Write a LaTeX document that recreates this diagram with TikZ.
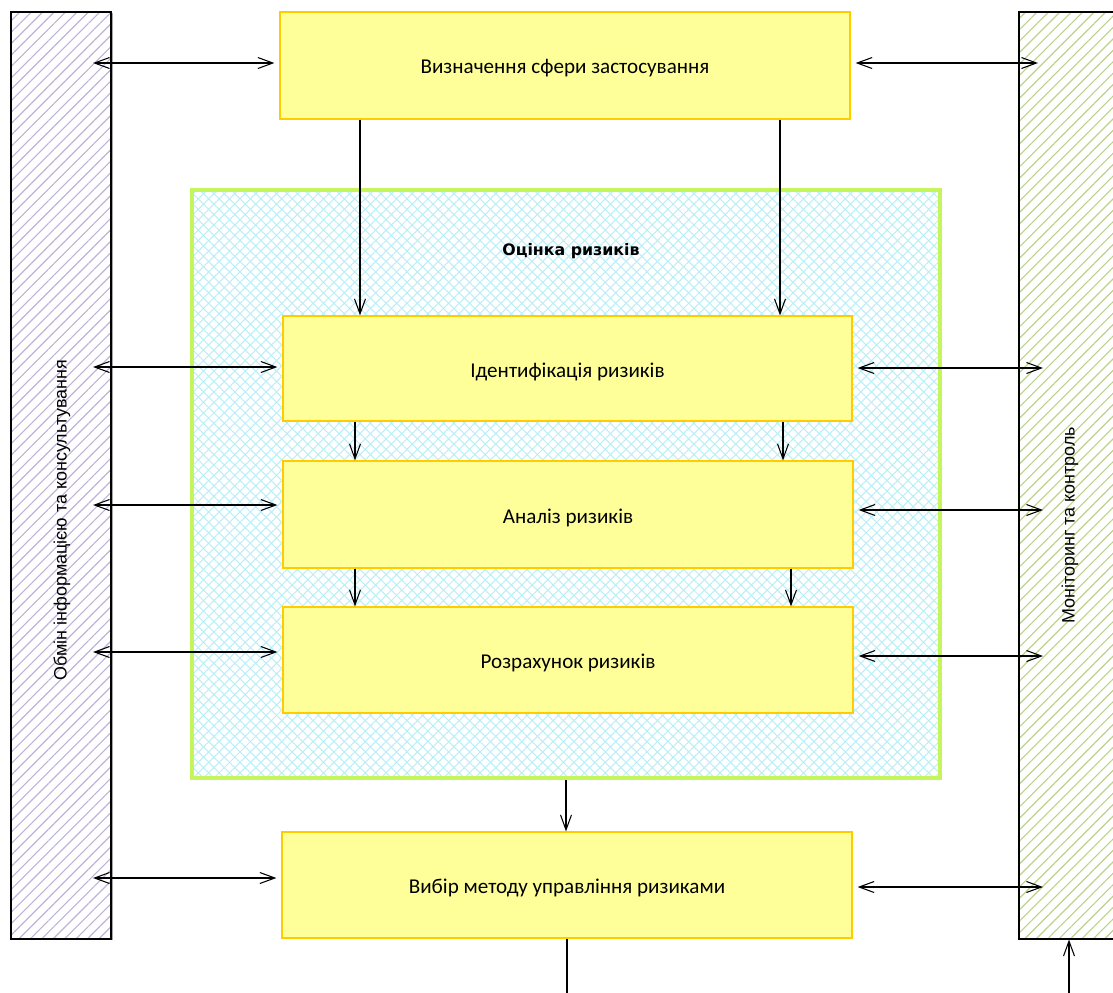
\documentclass[tikz,border=0pt]{standalone}
\usepackage{fontspec}
\setmainfont{Carlito}
\newfontfamily\sidefont{Liberation Sans}
\newfontfamily\titlefont{DejaVu Sans}
\usetikzlibrary{arrows.meta,patterns.meta,fit,calc}
\definecolor{boxfill}{HTML}{FFFF99}
\definecolor{boxline}{HTML}{FFCC00}
\definecolor{lav}{HTML}{BDB2D8}
\definecolor{olivegr}{HTML}{B8D38A}
\definecolor{cyanh}{HTML}{BAEEF7}
\definecolor{limegr}{HTML}{C4F55A}
\tikzset{
  box/.style={draw=boxline, fill=boxfill, line width=0.7pt, inner sep=0pt},
  boxtext/.style={font=\fontsize{12}{14}\selectfont, yshift=-0.06cm},
  bar/.style={draw=black, line width=0.6pt, inner sep=0pt},
  sidetext/.style={rotate=90, font=\sidefont\fontsize{10.2}{12}\selectfont},
  arr/.style={line width=0.6pt, -{Straight Barb[length=0.3cm,width=0.22cm]}},
  dbl/.style={line width=0.6pt, {Straight Barb[length=0.3cm,width=0.22cm]}-{Straight Barb[length=0.3cm,width=0.22cm]}},
}
\begin{document}
\begin{tikzpicture}[x=0.02cm,y=-0.02cm]
\useasboundingbox (0,0) rectangle (1113,992);
\clip (0,0) rectangle (1113,992);

% side bars
\fill[gray!70] (111,13) rectangle (113,940);
\path[pattern={Lines[angle=45,distance=4.6pt,line width=0.65pt]}, pattern color=lav] (11,12) rectangle (111,939);
\node[bar, fit={(11,12)(111,939)}] (left) {};
\path[pattern={Lines[angle=45,distance=4.6pt,line width=0.65pt]}, pattern color=olivegr] (1019,12) rectangle (1130,939);
\node[bar, fit={(1019,12)(1130,939)}] (right) {};
\node[sidetext] (ltxt) at (62,520) {Обмін інформацією та консультування};
\node[sidetext] (rtxt) at (1070,525) {Моніторинг та контроль};

% assessment frame
\path[pattern={Lines[angle=45,distance=4.2pt,line width=0.6pt]}, pattern color=cyanh] (192,190) rectangle (940,778);
\path[pattern={Lines[angle=-45,distance=4.2pt,line width=0.6pt]}, pattern color=cyanh] (192,190) rectangle (940,778);
\node[draw=limegr, line width=2pt, inner sep=0pt, fit={(192,190)(940,778)}] (assess) {};
\node[font=\titlefont\bfseries\fontsize{9}{11}\selectfont] (atitle) at (571,251) {Оцінка ризиків};

% boxes
\node[box, fit={(280,12)(850,119)}] (scope) {};
\node[box, fit={(283,316)(852,421)}] (ident) {};
\node[box, fit={(283,461)(853,568)}] (anal) {};
\node[box, fit={(283,607)(853,713)}] (calc) {};
\node[box, fit={(282,832)(852,938)}] (choice) {};
\node[boxtext] (tscope) at (scope.center) {Визначення сфери застосування};
\node[boxtext] (tident) at (ident.center) {Ідентифікація ризиків};
\node[boxtext] (tanal) at (anal.center) {Аналіз ризиків};
\node[boxtext] (tcalc) at (calc.center) {Розрахунок ризиків};
\node[boxtext] (tchoice) at (choice.center) {Вибір методу управління ризиками};

% vertical flow arrows
\draw[arr] (360,0 |- scope.south) -- (360,0 |- ident.north);
\draw[arr] (780,0 |- scope.south) -- (780,0 |- ident.north);
\draw[arr] (355,0 |- ident.south) -- (355,0 |- anal.north);
\draw[arr] (783,0 |- ident.south) -- (783,0 |- anal.north);
\draw[arr] (355,0 |- anal.south) -- (355,0 |- calc.north);
\draw[arr] (791,0 |- anal.south) -- (791,0 |- calc.north);
\draw[arr] (566,0 |- assess.south) -- (566,0 |- choice.north);
\coordinate (out) at (567,1000);
\draw[line width=0.6pt] (out |- choice.south) -- (out);
\coordinate (mon) at (1069,1000);
\draw[arr] (mon) -- (mon |- right.south);

% left double arrows
\foreach \y/\n in {63/scope,367/ident,505/anal,652/calc,878/choice}{
  \coordinate (l\n) at (93,\y);
  \draw[dbl, shorten >=0.1cm] (l\n) -- (l\n -| \n.west);
}
% right double arrows
\foreach \y/\n/\xe in {63/scope/1038,368/ident/1043,510/anal/1043,656/calc/1043,887/choice/1043}{
  \coordinate (r\n) at (\xe,\y);
  \draw[dbl, shorten >=0.1cm] (r\n) -- (r\n -| \n.east);
}
\end{tikzpicture}
\end{document}
